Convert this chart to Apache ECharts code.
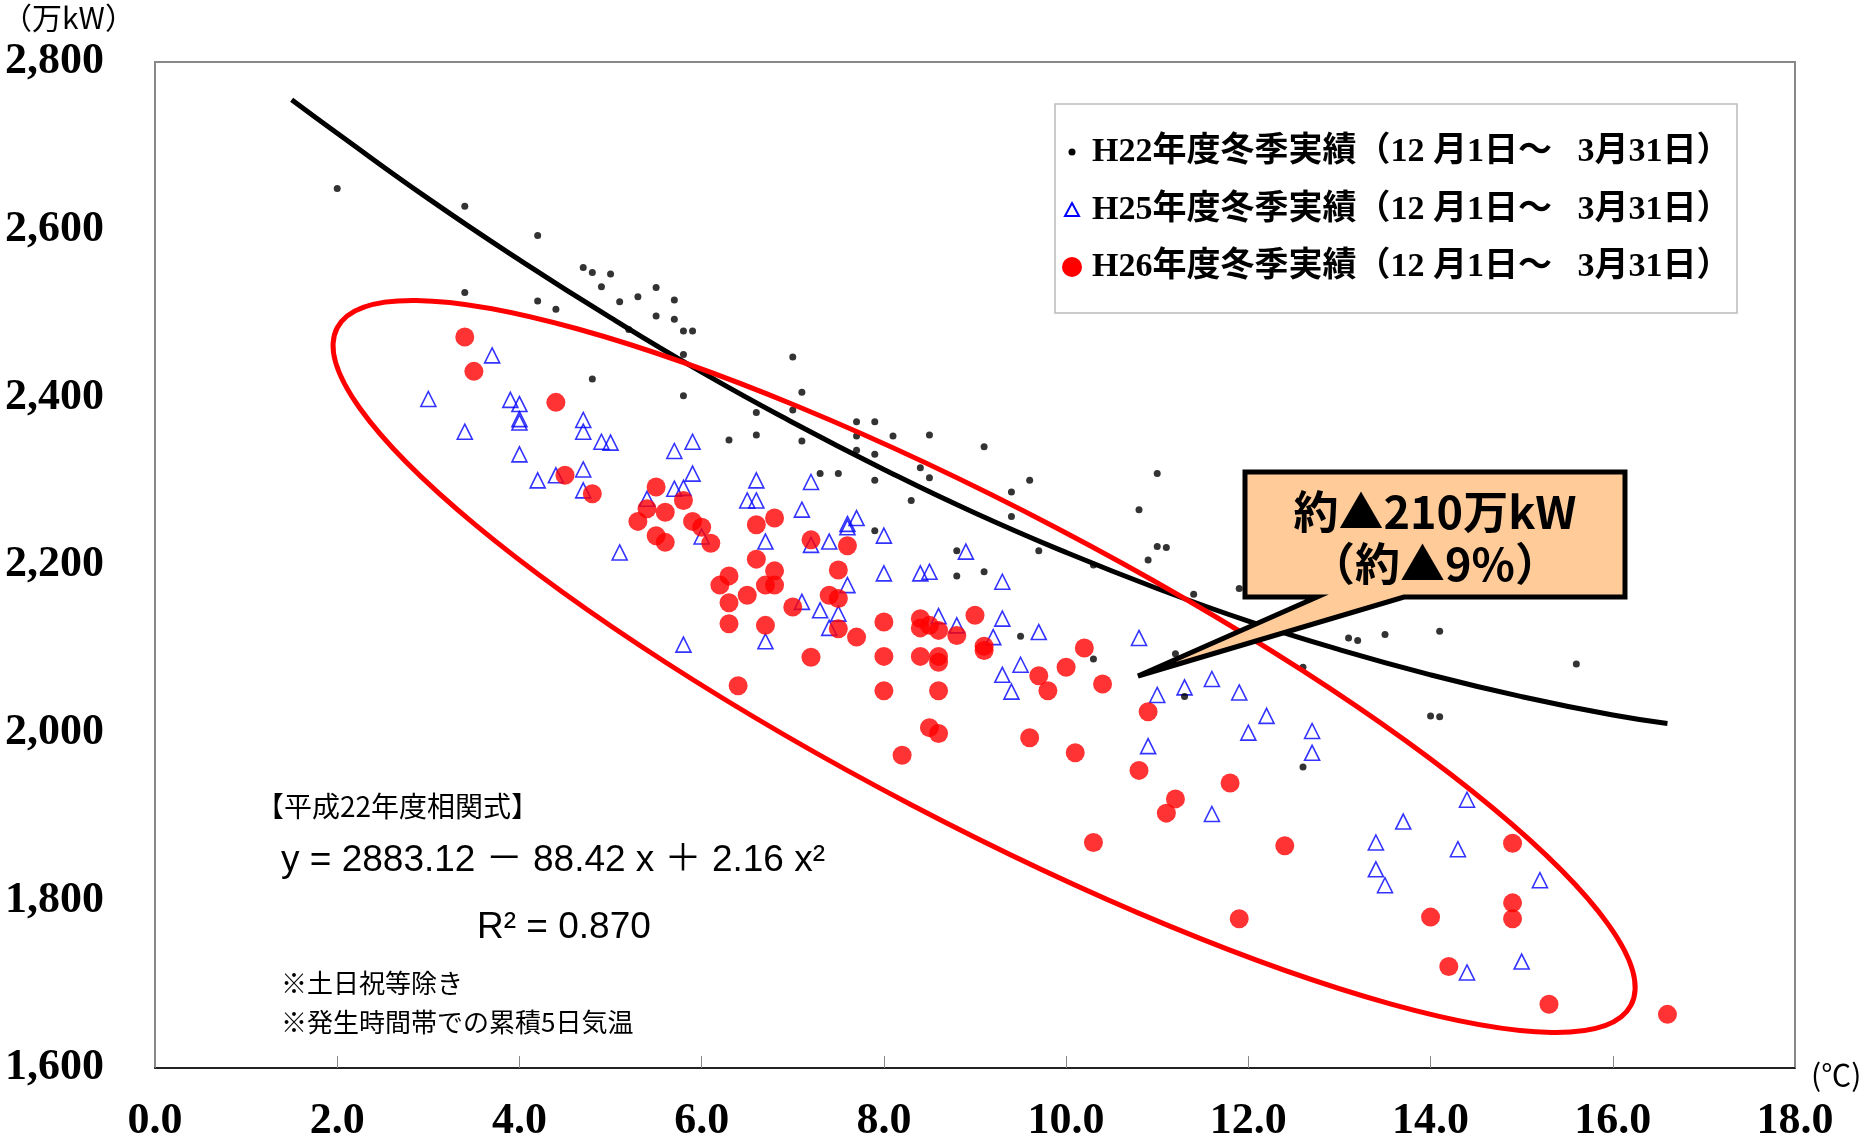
<!DOCTYPE html>
<html>
<head>
<meta charset="utf-8">
<script src="https://cdn.jsdelivr.net/npm/echarts@6/dist/echarts.min.js"></script>
<style>
html,body{margin:0;padding:0;background:#fff;}
#chart{width:1867px;height:1144px;}
</style>
</head>
<body>
<div id="chart"></div>
<script>
// ---- data ----
const xTicks = [0, 2, 4, 6, 8, 10, 12, 14, 16, 18];
const yTicks = [1600, 1800, 2000, 2200, 2400, 2600, 2800];

const seriesNames = [
  'H22年度冬季実績（12 月1日～   3月31日）',
  'H25年度冬季実績（12 月1日～   3月31日）',
  'H26年度冬季実績（12 月1日～   3月31日）'
];

// H22 winter results (black dots): [temperature, demand(万kW)]
const h22Points = [
  [2.0,2649],[3.4,2628],[3.4,2525],[4.2,2593],[4.2,2515],[4.4,2505],[4.7,2555],[4.8,2549],
  [5.0,2547],[4.9,2532],[5.1,2514],[5.3,2520],[5.5,2531],[5.7,2516],[5.5,2497],[5.7,2493],
  [5.8,2479],[5.9,2479],[5.8,2451],[5.2,2481],[4.8,2422],[5.8,2402],[7.0,2448],[7.1,2406],
  [6.6,2382],[7.0,2385],[7.7,2371],[7.9,2371],[8.1,2354],[8.5,2355],[7.7,2354],[6.6,2355],
  [6.3,2349],[7.1,2348],[9.1,2341],[7.3,2309],[7.5,2309],[7.7,2337],[7.9,2332],[7.9,2301],
  [8.4,2316],[8.5,2304],[8.3,2277],[9.4,2287],[9.6,2301],[9.4,2258],[9.7,2217],[10.3,2200],
  [11.0,2309],[10.8,2266],[11.0,2222],[11.1,2221],[10.9,2206],[11.4,2165],[11.9,2172],
  [11.2,2094],[10.3,2088],[11.3,2043],[8.8,2217],[8.8,2187],[9.1,2192],[9.5,2115],[7.9,2241],
  [12.6,2078],[13.1,2113],[13.2,2110],[13.5,2117],[14.1,2121],[15.6,2082],[14.0,2020],
  [14.1,2019],[12.6,1959]
];

// H25 winter results (blue hollow triangles)
const h25Points = [
  [3.7,2450],[3.0,2398],[3.4,2359],[3.9,2397],[4.0,2392],[4.0,2374],[4.0,2370],[4.7,2373],
  [4.7,2359],[4.9,2347],[5.0,2346],[5.7,2336],[5.9,2347],[4.0,2332],[4.2,2301],[4.4,2307],
  [4.7,2314],[4.7,2289],[5.1,2215],[5.4,2279],[5.7,2291],[5.8,2292],[5.9,2309],[5.8,2105],
  [6.0,2234],[6.6,2301],[6.5,2277],[6.6,2277],[7.2,2299],[7.1,2266],[6.7,2228],[7.2,2224],
  [7.4,2228],[7.6,2249],[7.7,2256],[7.6,2245],[8.0,2235],[7.6,2176],[8.0,2190],[8.4,2190],
  [8.5,2192],[8.9,2216],[9.3,2180],[7.1,2156],[7.3,2146],[7.5,2142],[7.4,2125],[6.7,2109],
  [8.6,2139],[8.8,2128],[9.3,2136],[9.2,2114],[9.7,2120],[9.5,2081],[9.3,2069],[9.4,2049],
  [10.8,2113],[11.0,2045],[11.3,2054],[11.6,2064],[11.9,2048],[12.2,2020],[12.0,2000],
  [10.9,1984],[11.6,1903],[12.7,2002],[12.7,1976],[14.4,1920],[13.7,1894],[13.4,1869],
  [14.3,1861],[13.4,1837],[13.5,1818],[15.2,1824],[15.0,1727],[14.4,1714]
];

// H26 winter results (red circles)
const h26Points = [
  [3.4,2472],[3.5,2431],[4.4,2394],[4.5,2307],[4.8,2285],[5.5,2293],[5.4,2267],[5.6,2263],
  [5.3,2252],[5.8,2277],[5.5,2235],[5.6,2227],[5.9,2252],[6.0,2245],[6.1,2226],[6.8,2256],
  [6.6,2248],[6.6,2207],[6.8,2193],[6.3,2187],[6.2,2176],[6.7,2176],[6.8,2176],[6.5,2164],
  [6.3,2155],[6.3,2130],[6.7,2128],[7.0,2150],[7.2,2230],[7.6,2223],[7.5,2194],[7.4,2164],
  [7.5,2160],[7.5,2124],[7.7,2114],[7.2,2090],[6.4,2056],[8.0,2132],[8.4,2136],[8.4,2125],
  [8.5,2128],[8.6,2122],[8.8,2116],[9.0,2140],[9.1,2103],[9.1,2098],[8.0,2091],[8.4,2091],
  [8.6,2091],[8.6,2084],[8.0,2050],[8.6,2050],[8.5,2006],[8.6,1999],[8.2,1973],[9.6,1994],
  [10.1,1976],[9.8,2050],[9.7,2068],[10.0,2078],[10.2,2101],[10.4,2058],[10.9,2025],
  [10.8,1955],[11.2,1921],[11.1,1904],[11.8,1940],[10.3,1869],[12.4,1865],[11.9,1778],
  [14.0,1780],[14.9,1868],[14.9,1797],[14.9,1778],[14.2,1721],[15.3,1676],[16.6,1664]
];

// H22 correlation curve
const curveX = [1.5, 2, 3, 4, 5, 6, 7, 8, 9, 10, 11, 12, 13, 14, 15, 16, 16.6];
const curveY = [2755, 2715, 2637, 2564, 2495, 2430, 2370, 2314, 2262, 2215, 2172, 2133, 2099, 2069, 2043, 2021, 2011];

// annotation texts
const unitY = '（万kW）';
const unitX = '(℃)';
const formulaTitle = '【平成22年度相関式】';
const formulaText = 'y = 2883.12 － 88.42 x ＋ 2.16 x²';
const r2Text = 'R² = 0.870';
const note1 = '※土日祝等除き';
const note2 = '※発生時間帯での累積5日気温';
const calloutLine1 = '約▲210万kW';
const calloutLine2 = '（約▲9%）';

// ellipse (data coords): center, end of major axis, end of minor axis
const ellipseCenter = [9.1, 2079];
const ellipseMajorEnd = [16.2, 1675];
const ellipseMinorEnd = [8.3, 1914];

// ---- chart ----
const chart = echarts.init(document.getElementById('chart'));
const serifNum = '"Liberation Serif", "Noto Sans CJK JP", serif';
const cjkSans = '"Noto Sans CJK JP", "Liberation Sans", sans-serif';

chart.setOption({
  animation: false,
  backgroundColor: '#ffffff',
  grid: {
    left: 155, right: 72, top: 62, bottom: 76,
    show: true, borderColor: '#888', borderWidth: 2, backgroundColor: '#fff'
  },
  xAxis: {
    type: 'value', min: xTicks[0], max: xTicks[xTicks.length - 1], interval: 2,
    axisLine: { show: true, onZero: false, lineStyle: { color: '#222', width: 2 } },
    axisTick: { show: true, inside: true, length: 12, lineStyle: { color: '#888', width: 1 } },
    splitLine: { show: false },
    axisLabel: {
      margin: 32, color: '#000', fontFamily: serifNum, fontWeight: 'bold', fontSize: 44,
      formatter: v => v.toFixed(1)
    }
  },
  yAxis: {
    type: 'value', min: yTicks[0], max: yTicks[yTicks.length - 1], interval: 200,
    axisLine: { show: true, onZero: false, lineStyle: { color: '#888', width: 1 } },
    axisTick: { show: false },
    splitLine: { show: false },
    axisLabel: {
      margin: 51, color: '#000', fontFamily: serifNum, fontWeight: 'bold', fontSize: 44,
      formatter: v => v.toLocaleString('en-US')
    }
  },
  series: [
    {
      name: seriesNames[0], type: 'scatter', data: h22Points,
      symbol: 'circle', symbolSize: 7,
      itemStyle: { color: '#000' }, z: 3
    },
    {
      name: seriesNames[1], type: 'scatter', data: h25Points,
      symbol: 'triangle', symbolSize: 15,
      itemStyle: { color: 'rgba(255,255,255,0)', borderColor: '#0000ff', borderWidth: 1.6 }, z: 2
    },
    {
      name: seriesNames[2], type: 'scatter', data: h26Points,
      symbol: 'circle', symbolSize: 19,
      itemStyle: { color: '#ff0000' }, z: 4
    },
    {
      name: 'H22相関式', type: 'line', smooth: true, showSymbol: false,
      data: curveX.map((x, i) => [x, curveY[i]]),
      lineStyle: { color: '#000', width: 5 }, z: 5
    }
  ]
});

// ---- annotations ----
const toPx = p => chart.convertToPixel({ gridIndex: 0 }, p);
const c = toPx(ellipseCenter), m = toPx(ellipseMajorEnd), n = toPx(ellipseMinorEnd);
const ea = Math.hypot(m[0] - c[0], m[1] - c[1]);
const eb = Math.hypot(n[0] - c[0], n[1] - c[1]);
const ang = Math.atan2(m[1] - c[1], m[0] - c[0]);

function txt(text, x, y, size, family, weight, align) {
  return {
    type: 'text', x: x, y: y, z: 120,
    style: {
      text: text, fill: '#000', fontSize: size, fontFamily: family,
      fontWeight: weight || 'normal', align: align || 'left', verticalAlign: 'middle'
    }
  };
}

const legendX = 1055, legendY = 104, legendW = 682, legendH = 209;
const rowY = [152, 210, 267];
const symX = 1072, textX = 1092;

const graphics = [
  // red ellipse
  {
    type: 'ellipse', x: c[0], y: c[1], rotation: -ang, z: 100,
    shape: { cx: 0, cy: 0, rx: ea, ry: eb },
    style: { fill: 'none', stroke: '#ff0000', lineWidth: 5 }
  },
  // callout box with tail
  {
    type: 'polygon', z: 110,
    shape: { points: [[1245, 472], [1625, 472], [1625, 597], [1404, 597], [1138, 676], [1317, 597], [1245, 597]] },
    style: { fill: '#FFCC99', stroke: '#000', lineWidth: 5, lineJoin: 'miter' }
  },
  txt(calloutLine1, 1435, 512, 45, cjkSans, 'bold', 'center'),
  txt(calloutLine2, 1435, 564, 45, cjkSans, 'bold', 'center'),
  // legend box
  {
    type: 'rect', z: 105,
    shape: { x: legendX, y: legendY, width: legendW, height: legendH },
    style: { fill: '#fff', stroke: '#bbb', lineWidth: 1.5 }
  },
  { type: 'circle', z: 110, shape: { cx: symX, cy: rowY[0], r: 3.5 }, style: { fill: '#000' } },
  {
    type: 'polygon', z: 110,
    shape: { points: [[symX, rowY[1] - 7], [symX + 7, rowY[1] + 6], [symX - 7, rowY[1] + 6]] },
    style: { fill: 'none', stroke: '#0000ff', lineWidth: 2 }
  },
  { type: 'circle', z: 110, shape: { cx: symX, cy: rowY[2], r: 10 }, style: { fill: '#ff0000' } },
  txt(seriesNames[0], textX, rowY[0], 34, serifNum, 'bold'),
  txt(seriesNames[1], textX, rowY[1], 34, serifNum, 'bold'),
  txt(seriesNames[2], textX, rowY[2], 34, serifNum, 'bold'),
  // units
  txt(unitY, 2, 18, 30, cjkSans, 'normal'),
  txt(unitX, 1811, 1075, 30, cjkSans, 'normal'),
  // formula block
  txt(formulaTitle, 256, 806, 28, cjkSans, 'normal'),
  txt(formulaText, 281, 861, 37, '"Liberation Sans", "Noto Sans CJK JP", sans-serif', 'normal'),
  txt(r2Text, 477, 928, 37, '"Liberation Sans", sans-serif', 'normal'),
  txt(note1, 281, 983, 26, cjkSans, 'normal'),
  txt(note2, 281, 1022, 26, cjkSans, 'normal')
];

chart.setOption({ graphic: graphics });
</script>
</body>
</html>
